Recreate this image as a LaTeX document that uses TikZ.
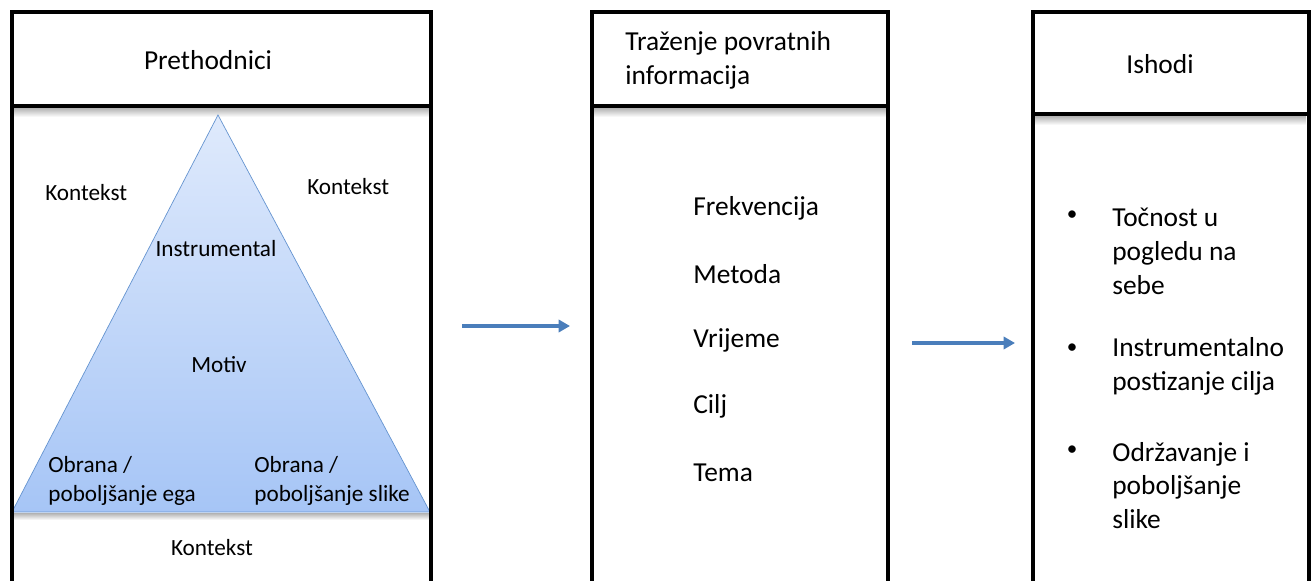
\documentclass[tikz,border=0pt]{standalone}
\usepackage{fontspec}
\setmainfont{Carlito}
\usetikzlibrary{arrows.meta}

\definecolor{pyrtop}{HTML}{DFEAFC}
\definecolor{pyrbot}{HTML}{A6C5F6}
\definecolor{pyredge}{HTML}{6594D0}
\definecolor{flowblue}{HTML}{4A7EBB}

\tikzset{
	column/.style={line width=2.3pt},
	shadowbar/.style={top color=black!30, bottom color=white, draw=none},
	big/.style={font=\fontsize{15.6}{19.3}\selectfont, inner sep=0pt, align=left},
	small/.style={font=\fontsize{13.2}{16.5}\selectfont, inner sep=0pt, align=left},
	dot/.style={font=\fontsize{12}{14}\selectfont, inner sep=0pt},
	flow/.style={flowblue, line width=2.2pt, -{Triangle[length=6.5pt,width=7pt]}},
}

\begin{document}
\begin{tikzpicture}[x=0.02cm,y=-0.02cm]

	\useasboundingbox (0,0) rectangle (1313,581);

	\def\bot{590}

	% shadows under the header lines
	\shade[shadowbar] (14,108) rectangle (429,117);
	\shade[shadowbar] (594,108) rectangle (886,117);
	\shade[shadowbar] (1035,116) rectangle (1306,125);

	% pyramid
	\shade[shadowbar] (14,513) rectangle (429,520);
	\draw[pyredge, top color=pyrtop, bottom color=pyrbot] (218,115) -- (430,512) -- (12,512) -- cycle;

	% columns
	\draw[column] (12,\bot) -- (12,12) -- (431,12) -- (431,\bot);
	\draw[column] (12,106) -- (431,106);
	\draw[column] (592,\bot) -- (592,12) -- (888,12) -- (888,\bot);
	\draw[column] (592,106) -- (888,106);
	\draw[column] (1033,\bot) -- (1033,12) -- (1309,12) -- (1309,\bot);
	\draw[column] (1033,114) -- (1309,114);

	% headers
	\node[big] (prethodnici) at (208,60) {Prethodnici};
	\node[big, anchor=west] (trazenje) at (625,60) {Traženje povratnih\\informacija};
	\node[big] (ishodi) at (1160,64) {Ishodi};

	% first column
	\node[small, anchor=west] (kontL) at (45,193) {Kontekst};
	\node[small, anchor=west] (kontR) at (307,187) {Kontekst};
	\node[small] (instr) at (216,249) {Instrumental};
	\node[small] (motiv) at (219,365) {Motiv};
	\node[small, anchor=west] (obranaL) at (48,481) {Obrana /\\poboljšanje ega};
	\node[small, anchor=west] (obranaR) at (254,481) {Obrana /\\poboljšanje slike};
	\node[small] (kontB) at (212,548) {Kontekst};

	% second column
	\foreach \name/\txt/\yy in {frek/Frekvencija/208, metoda/Metoda/274, vrijeme/Vrijeme/340, cilj/Cilj/406, tema/Tema/473}
		\node[big, anchor=west] (\name) at (693,\yy) {\txt};

	% third column
	\foreach \yy in {216,349,451}
		\node[dot] at (1072,\yy) {•};
	\node[big, anchor=west] (tocnost) at (1112,251) {Točnost u\\pogledu na\\sebe};
	\node[big, anchor=west] (instrum) at (1112,366.5) {Instrumentalno\\postizanje cilja};
	\node[big, anchor=west] (odrz) at (1112,485.5) {Održavanje i\\poboljšanje\\slike};

	% arrows
	\coordinate (flowAs) at (462,326);
	\coordinate (flowAe) at (570,326);
	\coordinate (flowBs) at (912,343);
	\coordinate (flowBe) at (1015,343);
	\draw[flow] (flowAs) -- (flowAe);
	\draw[flow] (flowBs) -- (flowBe);

\end{tikzpicture}
\end{document}
